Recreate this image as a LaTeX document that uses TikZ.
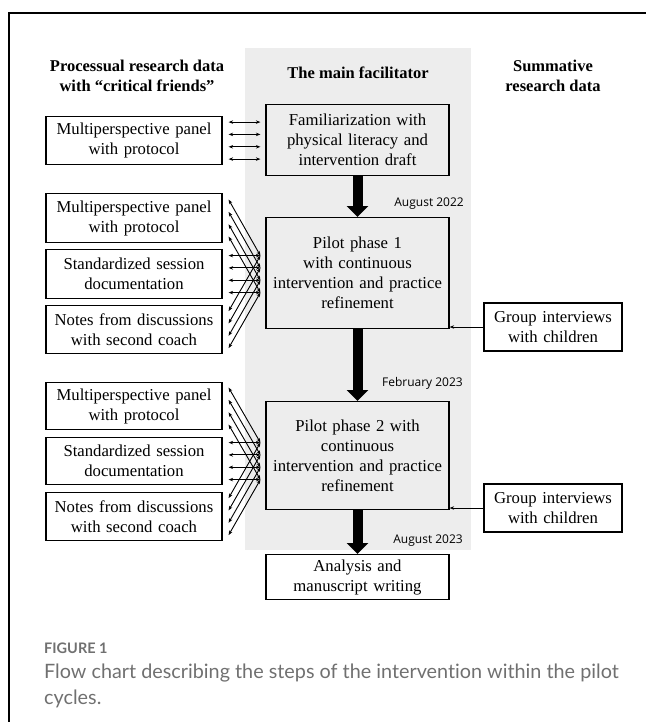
\documentclass[tikz,border=0pt]{standalone}
\usepackage{fontspec}
\setmainfont{Liberation Serif}
\newfontfamily\datefont{Open Sans}
\newfontfamily\captionfont[Ligatures=NoCommon]{Lato}
\usetikzlibrary{arrows.meta, calc}
\usetikzlibrary{positioning}
\definecolor{panel_gray}{RGB}{237,237,237}
\definecolor{caption_gray}{RGB}{112,112,112}
\tikzstyle{data_box} = [
    draw=black, 
    line width=1.2pt, 
    align=center, 
    inner sep=0pt, 
    text width=176pt, 
    minimum height=48pt, 
    font=\rmfamily\fontsize{16.7}{20}\selectfont
]
\tikzstyle{step_box} = [
    data_box, 
    text width=183pt
]
\tikzstyle{head_text} = [
    align=center, 
    inner sep=0pt, 
    font=\rmfamily\bfseries\fontsize{16.5}{20}\selectfont
]
\tikzstyle{date_text} = [
    anchor=east, 
    inner sep=0pt, 
    font=\datefont\fontsize{12}{14}\selectfont
]
\tikzstyle{link} = [
    line width=0.9pt, 
    {Stealth[length=4.5pt,width=3.5pt]}-{Stealth[length=4.5pt,width=3.5pt]}
]
\tikzstyle{link_one} = [
    line width=0.9pt, 
    -{Stealth[length=4.5pt,width=3.5pt]}
]
\tikzstyle{big_arrow} = [
    line width=10pt, 
    -{Triangle[length=11pt,width=21pt]} % tip lands on the next box
]

\begin{document}
\begin{tikzpicture}[x=1pt, y=-1pt]
\useasboundingbox (0,0) rectangle (646,722);
\fill[panel_gray] (245,48) rectangle (471,550);
\draw[line width=1.6pt] (9,722) -- (9,13) -- (646,13);

% column heads
\node [head_text] (head_left) at (137,76) {Processual research data\\with “critical friends”};
\node [head_text] (head_mid) at (358,73) {The main facilitator};
\node [head_text] (head_right) at (553,76) {Summative\\research data};

% main facilitator
\node [step_box, anchor=north, minimum height=71pt] (familiar) at (357.5,104) {Familiarization with\\physical literacy and\\intervention draft};
\node [step_box, anchor=north, minimum height=111pt] (pilot_1) at (357.5,217) {Pilot phase 1\\with continuous\\intervention and practice\\refinement};
\node [step_box, anchor=north, minimum height=108pt] (pilot_2) at (357.5,401) {Pilot phase 2 with\\continuous\\intervention and practice\\refinement};
\node [step_box, anchor=north, minimum height=45pt] (analysis) at (357.5,554) {Analysis and\\manuscript writing};

% critical friends
\node [data_box, anchor=north] (panel_0) at (134,116) {Multiperspective panel\\with protocol};
\node [data_box, anchor=north, minimum height=49pt] (panel_1) at (134,193) {Multiperspective panel\\with protocol};
\node [data_box, anchor=north, minimum height=49pt] (session_1) at (134,249) {Standardized session\\documentation};
\node [data_box, anchor=north] (notes_1) at (134,305) {Notes from discussions\\with second coach};
\node [data_box, anchor=north, minimum height=47pt] (panel_2) at (134,382) {Multiperspective panel\\with protocol};
\node [data_box, anchor=north, minimum height=47pt] (session_2) at (134,437) {Standardized session\\documentation};
\node [data_box, anchor=north] (notes_2) at (134,492) {Notes from discussions\\with second coach};

% summative
\node [data_box, text width=138pt] (interview_1) at (553,327) {Group interviews\\with children};
\node [data_box, text width=138pt] (interview_2) at (553,508) {Group interviews\\with children};

% dates
\node [date_text] (date_1) at (464,204) {August 2022};
\node [date_text] (date_2) at (463,383) {February 2023};
\node [date_text] (date_3) at (463,541) {August 2023};

\draw [big_arrow] (familiar) -- (pilot_1);
\draw [big_arrow] (pilot_1) -- (pilot_2);
\draw [big_arrow] (pilot_2) -- (analysis);

\foreach \o in {-18.5,-6.2,6.2,18.5}
    \draw [link] ($(panel_0.east)+(6,\o)$) -- ($(familiar.west |- panel_0.east)+(-5,\o)$);
\foreach \b in {panel_1,session_1,notes_1}
    \foreach \o in {-18.5,-6.2,6.2,18.5}
        \draw [link] ($(\b.east)+(6,\o)$) -- ($(pilot_1.west |- session_1.east)+(-5,\o)$);
\foreach \b in {panel_2,session_2,notes_2}
    \foreach \o in {-18.5,-6.2,6.2,18.5}
        \draw [link] ($(\b.east)+(6,\o)$) -- ($(pilot_2.west |- session_2.east)+(-5,\o)$);

\draw [link_one] (interview_1.west) -- (interview_1.west -| pilot_1.east);
\draw [link_one] (interview_2.west) -- (interview_2.west -| pilot_2.east);

% caption
\node [anchor=west, inner sep=0pt, text=caption_gray, font=\captionfont\bfseries\fontsize{14.5}{16}\selectfont] (fig_label) at (44,648) {FIGURE 1};
\node [anchor=base west, inner sep=0pt, align=left, text=caption_gray, font=\captionfont\fontsize{19.8}{26}\selectfont] (fig_caption) at (44,704) {Flow chart describing the steps of the intervention within the pilot\\cycles.};
\end{tikzpicture}
\end{document}
